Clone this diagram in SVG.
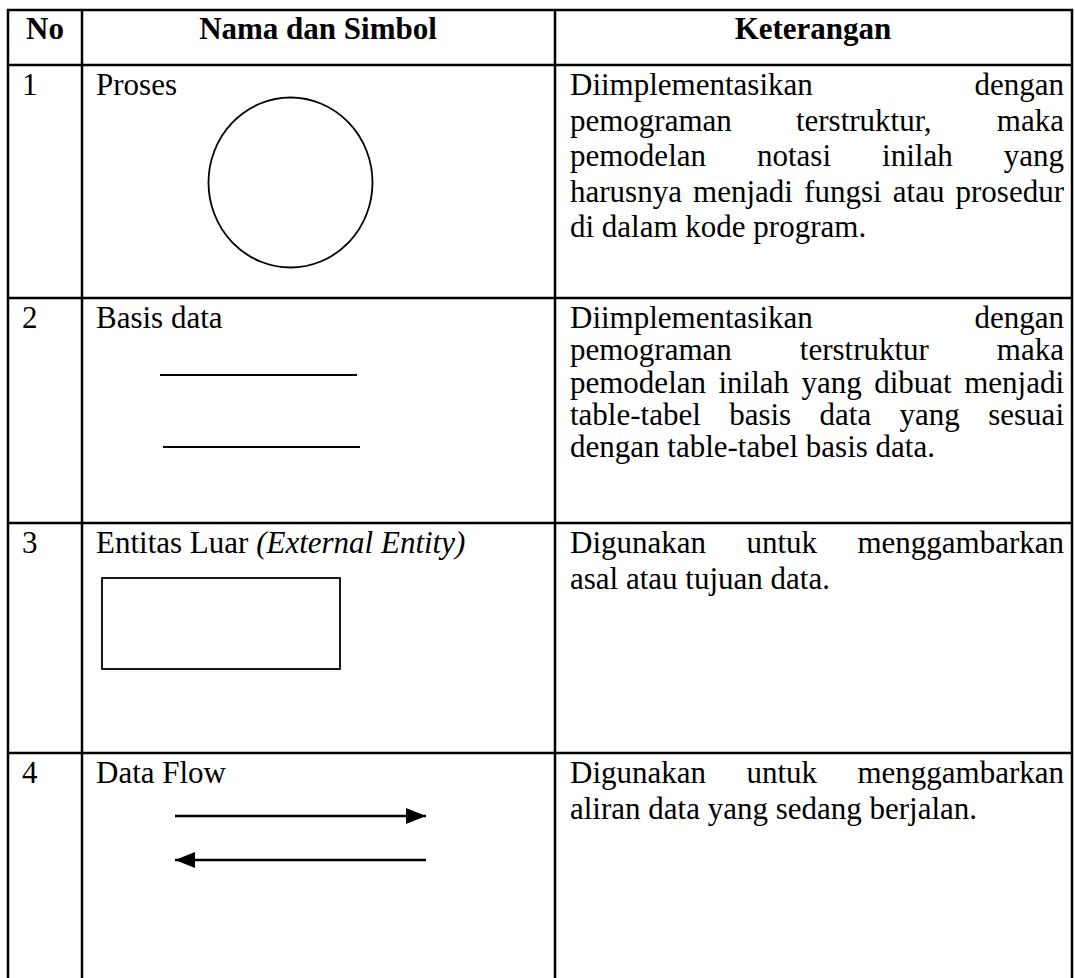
<svg xmlns="http://www.w3.org/2000/svg" width="1075" height="978" viewBox="0 0 1075 978">
<defs>
<style>
.grid{stroke:#000;stroke-width:2.5;fill:none}
.shape{stroke:#000;stroke-width:1.8;fill:none}
.flow{stroke:#000;stroke-width:2.5;fill:none}
text{font-family:"Liberation Serif","Times New Roman",serif;font-size:31px;fill:#000}
.b{font-weight:bold}
.i{font-style:italic}
.e{text-anchor:end}
.m{text-anchor:middle}
</style>
<marker id="ah" viewBox="0 0 20 16" refX="20" refY="8" markerWidth="20" markerHeight="16" markerUnits="userSpaceOnUse" orient="auto-start-reverse">
<path d="M0,0 L20,8 L0,16 Z" fill="#000"/>
</marker>
</defs>
<rect width="1075" height="978" fill="#fff"/>
<g id="table-grid">
<line class="grid" x1="7" y1="10" x2="1073" y2="10"/>
<line class="grid" x1="7" y1="65" x2="1073" y2="65"/>
<line class="grid" x1="7" y1="298" x2="1073" y2="298"/>
<line class="grid" x1="7" y1="523" x2="1073" y2="523"/>
<line class="grid" x1="7" y1="753" x2="1073" y2="753"/>
<line class="grid" x1="8" y1="9" x2="8" y2="978"/>
<line class="grid" x1="82" y1="9" x2="82" y2="978"/>
<line class="grid" x1="555" y1="9" x2="555" y2="978"/>
<line class="grid" x1="1072" y1="9" x2="1072" y2="978"/>
</g>
<g id="header">
<text class="b m" x="45" y="39">No</text>
<text class="b m" x="318" y="39">Nama dan Simbol</text>
<text class="b m" x="813" y="39">Keterangan</text>
</g>
<g id="row1">
<text x="22" y="95">1</text>
<text x="96" y="95">Proses</text>
<ellipse id="proses-symbol" class="shape" cx="290.5" cy="182.5" rx="82" ry="85"/>
<text x="570" y="95">Diimplementasikan</text><text class="e" x="1064" y="95">dengan</text>
<text x="570" y="130.5">pemograman</text><text x="795.9" y="130.5">terstruktur,</text><text class="e" x="1064" y="130.5">maka</text>
<text x="570" y="166">pemodelan</text><text x="757" y="166">notasi</text><text x="882.1" y="166">inilah</text><text class="e" x="1064" y="166">yang</text>
<text x="570" y="201.5">harusnya</text><text x="693.1" y="201.5">menjadi</text><text x="804.1" y="201.5">fungsi</text><text x="892.8" y="201.5">atau</text><text class="e" x="1064" y="201.5">prosedur</text>
<text x="570" y="237">di dalam kode program.</text>
</g>
<g id="row2">
<text x="22" y="328">2</text>
<text x="96" y="328">Basis data</text>
<g id="basis-data-symbol">
<line class="shape" x1="160" y1="375" x2="357" y2="375" stroke-width="2"/>
<line class="shape" x1="163" y1="447" x2="360" y2="447" stroke-width="2"/>
</g>
<text x="570" y="328">Diimplementasikan</text><text class="e" x="1064" y="328">dengan</text>
<text x="570" y="360">pemograman</text><text x="799.8" y="360">terstruktur</text><text class="e" x="1064" y="360">maka</text>
<text x="570" y="392.5">pemodelan</text><text x="718.5" y="392.5">inilah</text><text x="801.5" y="392.5">yang</text><text x="874.2" y="392.5">dibuat</text><text class="e" x="1064" y="392.5">menjadi</text>
<text x="570" y="425">table-tabel</text><text x="729.2" y="425">basis</text><text x="819.6" y="425">data</text><text x="899.6" y="425">yang</text><text class="e" x="1064" y="425">sesuai</text>
<text x="570" y="457">dengan table-tabel basis data.</text>
</g>
<g id="row3">
<text x="22" y="553">3</text>
<text x="96" y="553">Entitas Luar <tspan class="i">(External Entity)</tspan></text>
<rect id="entity-symbol" class="shape" x="102" y="578" width="238" height="91" stroke-width="2"/>
<text x="570" y="553">Digunakan</text><text x="746.4" y="553">untuk</text><text class="e" x="1064" y="553">menggambarkan</text>
<text x="570" y="589">asal atau tujuan data.</text>
</g>
<g id="row4">
<text x="22" y="783">4</text>
<text x="96" y="783">Data Flow</text>
<text x="570" y="783">Digunakan</text><text x="746.4" y="783">untuk</text><text class="e" x="1064" y="783">menggambarkan</text>
<text x="570" y="819">aliran data yang sedang berjalan.</text>
</g>
<g id="connectors">
<line class="flow" x1="175" y1="816" x2="426" y2="816" marker-end="url(#ah)"/>
<line class="flow" x1="426" y1="860" x2="175" y2="860" marker-end="url(#ah)"/>
</g>
</svg>
